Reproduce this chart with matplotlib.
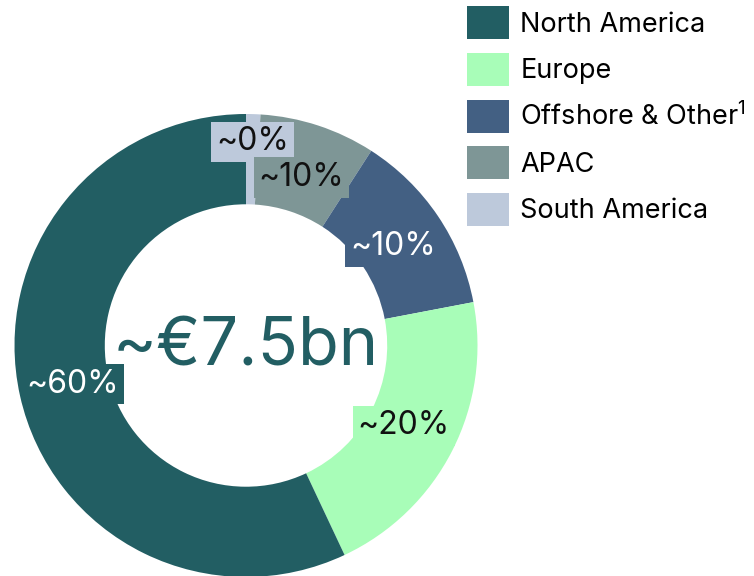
import matplotlib
matplotlib.use("Agg")
import matplotlib.pyplot as plt
from matplotlib.patches import Patch
import numpy as np

# Data (clockwise from 12 o'clock)
regions = ["South America", "APAC", "Offshore & Other$^1$", "Europe", "North America"]
shares = [1.0, 8.1, 12.9, 21.0, 57.0]
labels = ["~0%", "~10%", "~10%", "~20%", "~60%"]
colors = ["#BDC9DB", "#7E9696", "#436083", "#A8FDB8", "#225E63"]
text_colors = ["#111111", "#111111", "#FFFFFF", "#111111", "#FFFFFF"]
legend_order = ["North America", "Europe", "Offshore & Other$^1$", "APAC", "South America"]
center_text = "~€7.5bn"

plt.rcParams['font.family'] = ['Inter', 'DejaVu Sans']
plt.rcParams['mathtext.fontset'] = 'custom'
plt.rcParams['mathtext.rm'] = 'Inter'

W, H = 754, 576
fig = plt.figure(figsize=(W / 100, H / 100), dpi=100)
cx, cy, R = 246, 345.5, 231.5
ax = fig.add_axes([(cx - R) / W, (H - cy - R) / H, 2 * R / W, 2 * R / H])

wedges, _ = ax.pie(shares, colors=colors, startangle=90, counterclock=False,
                   radius=1.0, wedgeprops=dict(width=0.39, linewidth=0))
ax.set_xlim(-1, 1)
ax.set_ylim(-1, 1)
ax.set_aspect('equal')
ax.axis('off')

for i, w in enumerate(wedges):
    mid = np.deg2rad((w.theta1 + w.theta2) / 2)
    r = 0.88 if i == 0 else 0.765
    ax.text(r * np.cos(mid), r * np.sin(mid), labels[i], ha='center', va='center',
            fontsize=23, color=text_colors[i],
            bbox=dict(boxstyle='square,pad=0.15', fc=colors[i], ec='none'))

ax.text(0, -0.01, center_text, ha='center', va='center', fontsize=48,
        color="#225E63")

handles = []
for name in legend_order:
    idx = regions.index(name)
    handles.append(Patch(facecolor=colors[idx], edgecolor='none', label=name))
fig.legend(handles=handles, loc='upper left', bbox_to_anchor=(462 / W, 1 - 1 / H),
           frameon=False, fontsize=19.5, handlelength=1.55, handleheight=1.5,
           handletextpad=0.4, labelspacing=0.5, borderaxespad=0, borderpad=0.2)

fig.savefig("out.png", dpi=100)
